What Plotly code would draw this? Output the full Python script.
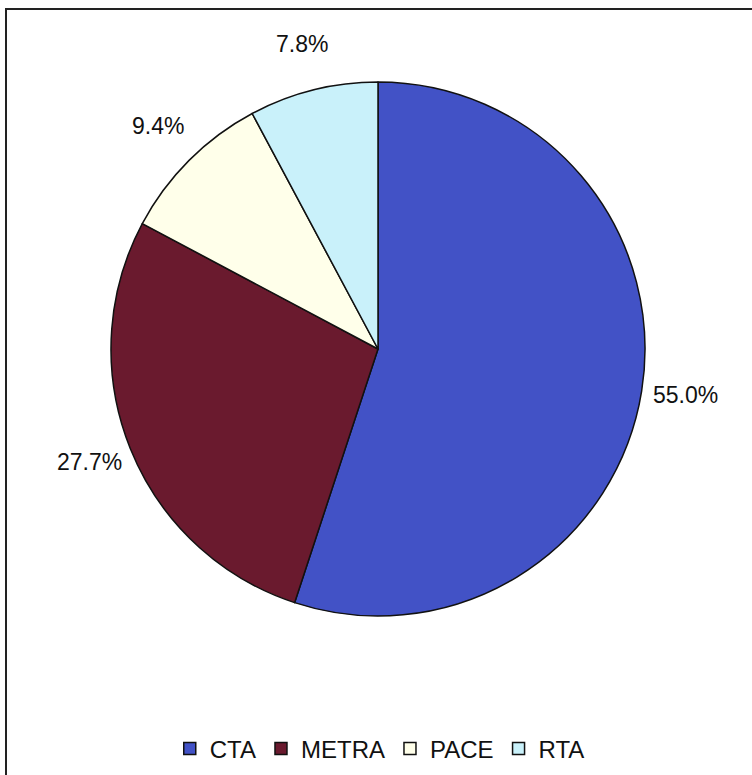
import math
import plotly.graph_objects as go

# Share of ridership by service board
agencies = ["CTA", "METRA", "PACE", "RTA"]
shares = [55.0, 27.7, 9.4, 7.8]
slice_colors = ["#4252C6", "#6A1A2E", "#FFFFEA", "#C9F1FA"]

W, H = 752, 775
cx, cy, r = 378, 349, 267
label_radius = 311  # distance from pie centre to each percentage label
font_family = "Liberation Sans, Arial, sans-serif"

fig = go.Figure(
    go.Pie(
        labels=agencies,
        values=shares,
        sort=False,
        direction="clockwise",
        rotation=0,
        marker=dict(colors=slice_colors, line=dict(color="#111111", width=1.5)),
        textinfo="none",
        hoverinfo="label+value",
        domain=dict(
            x=[(cx - r) / W, (cx + r) / W],
            y=[1 - (cy + r) / H, 1 - (cy - r) / H],
        ),
    )
)

# Percentage labels sit outside each slice, along the slice's middle angle
total = sum(shares)
annotations = []
running = 0.0
for share in shares:
    mid = (running + share / 2) / total * 2 * math.pi  # clockwise from 12 o'clock
    running += share
    px = cx + label_radius * math.sin(mid)
    py = cy - label_radius * math.cos(mid) - 3
    annotations.append(
        dict(
            x=px / W,
            y=1 - py / H,
            xref="paper",
            yref="paper",
            text=f"{share:.1f}%",
            showarrow=False,
            xanchor="center",
            yanchor="middle",
            font=dict(family=font_family, size=23, color="#111111"),
        )
    )

fig.update_layout(
    width=W,
    height=H,
    margin=dict(l=0, r=0, t=0, b=0),
    paper_bgcolor="white",
    plot_bgcolor="white",
    showlegend=True,
    annotations=annotations,
    legend=dict(
        orientation="h",
        x=0.505,
        xanchor="center",
        y=1 - 749 / H,
        yanchor="middle",
        font=dict(family=font_family, size=24, color="#111111"),
        itemwidth=30,
        tracegroupgap=0,
    ),
    shapes=[
        dict(
            type="rect",
            xref="paper",
            yref="paper",
            x0=6 / W,
            x1=1.02,
            y0=-0.02,
            y1=1 - 9 / H,
            line=dict(color="#222222", width=2),
        )
    ],
)

fig.write_html("out.html")
